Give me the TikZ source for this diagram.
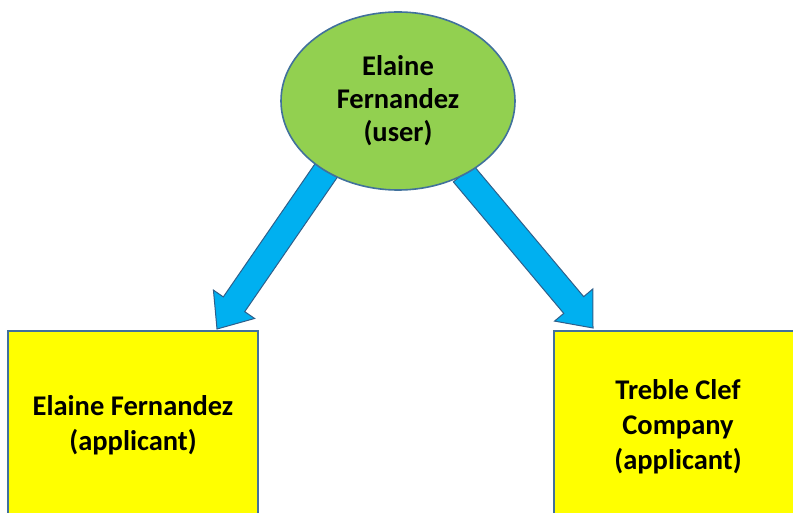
\documentclass[tikz,border=0pt]{standalone}
\usepackage{fontspec}
\setmainfont{Carlito}
\usetikzlibrary{calc,backgrounds,shapes.geometric}
\definecolor{ellgreen}{HTML}{92D050}
\definecolor{edgeblue}{HTML}{41719C}
\definecolor{arrowblue}{HTML}{00B0F0}
\definecolor{arrowedge}{HTML}{2F5F8A}
\definecolor{boxyellow}{HTML}{FFFF00}
\tikzset{
  userell/.style={ellipse, draw=edgeblue, line width=1.6pt, fill=ellgreen,
    minimum width=234pt, minimum height=178pt, inner sep=0pt, align=center,
    font=\fontsize{28.5}{33}\selectfont\bfseries},
  appbox/.style={draw=edgeblue, line width=1.6pt, fill=boxyellow},
  apptext/.style={align=center, font=\fontsize{28.5}{35}\selectfont\bfseries},
  blockarrow/.style={fill=arrowblue, draw=arrowedge, line width=1pt, line join=miter}
}
\newcommand{\blockarrow}[3]{% #1 tail, #2 tip, #3 name prefix
  \coordinate (#3h) at ($(#2)!30pt!(#1)$);
  \draw[blockarrow] ($(#1)!13pt!90:(#2)$) -- ($(#3h)!13pt!-90:(#1)$) -- ($(#3h)!25pt!-90:(#1)$)
    -- (#2) -- ($(#3h)!25pt!90:(#1)$) -- ($(#3h)!13pt!90:(#1)$) -- ($(#1)!13pt!-90:(#2)$) -- cycle;
}
\begin{document}
\begin{tikzpicture}[x=1pt,y=-1pt]
\useasboundingbox (0,0) rectangle (793,513);
\clip (0,0) rectangle (793,513);
\node[userell] (u) at (398,101) {Elaine\\Fernandez\\(user)};
\path[appbox] (8,331) rectangle (258,540);
\node[apptext] (l) at (133,425) {Elaine Fernandez\\(applicant)};
\path[appbox] (554,331) rectangle (806,540);
\node[apptext] (r) at (678,427) {Treble Clef\\Company\\(applicant)};
\coordinate (lt) at ($(u.center)!0.98!(u.224)$);
\coordinate (rt) at ($(u.center)!0.98!(u.-48)$);
\coordinate (lp) at (217,329);
\coordinate (rp) at (593,328);
\begin{scope}[on background layer]
\blockarrow{lt}{lp}{la}
\blockarrow{rt}{rp}{ra}
\end{scope}
\end{tikzpicture}
\end{document}
